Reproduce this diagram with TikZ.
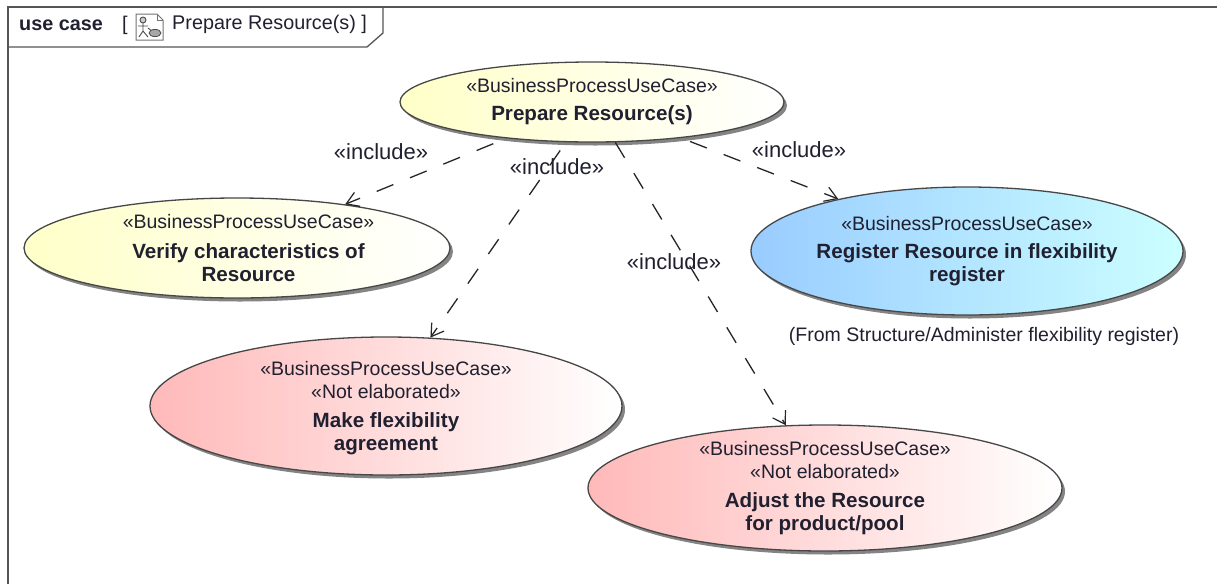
\documentclass[tikz,border=0pt]{standalone}
\usepackage{fontspec}
\setmainfont{Liberation Sans}
\usetikzlibrary{arrows.meta,shapes.geometric,shadows}
\newcommand{\stfont}{\fontsize{19.5}{23}\selectfont}
\newcommand{\bfnt}{\fontsize{20.6}{23}\selectfont\bfseries}
\newcommand{\inclfont}{\fontsize{22}{24}\selectfont}
\newcommand{\upby}[1]{\rule[-#1pt]{0pt}{0pt}}
\definecolor{ink}{HTML}{202030}
\definecolor{framec}{HTML}{555555}
\definecolor{ylo}{HTML}{FFFFC8}
\definecolor{blo}{HTML}{99CCFF}
\definecolor{bhi}{HTML}{CCFFFF}
\definecolor{rlo}{HTML}{FFB9B9}
\tikzset{
  uc/.style={ellipse,draw=black!72,line width=1.3pt,inner sep=0pt,align=center,text=ink,font=\stfont,
    drop shadow={shadow xshift=3pt,shadow yshift=-3.5pt,fill=black!80,opacity=.6}},
  ucY/.style={uc,left color=ylo,right color=white},
  ucB/.style={uc,left color=blo,right color=bhi},
  ucR/.style={uc,left color=rlo,right color=white},
  incl/.style={draw=black!85,line width=1.3pt,dash pattern=on 18pt off 18pt,
    -{Straight Barb[length=12pt,width=15pt,line width=1.2pt]}},
  lbl/.style={font=\inclfont,text=ink,inner sep=0pt},
  frameline/.style={draw=framec,line width=1.3pt}
}
\begin{document}
\begin{tikzpicture}[x=1pt,y=-1pt]
\useasboundingbox (0,0) rectangle (1217,584);
\fill[white] (0,0) rectangle (1217,584);
% frame
\draw[frameline] (8,584) -- (8,7) -- (1217,7);
\draw[frameline] (8,47) -- (367,47) -- (383,33) -- (383,7);
\node[anchor=west,inner sep=0pt,font=\fontsize{19.8}{22}\selectfont\bfseries,text=ink] (fkind) at (19,25) {use case};
\node[anchor=west,inner sep=0pt,font=\fontsize{19.8}{22}\selectfont,text=ink] (fbr) at (122,25) {[};
\node[anchor=west,inner sep=0pt,font=\fontsize{19.8}{22}\selectfont,text=ink] (fname) at (172,24) {Prepare Resource(s) ]};
% icon
\draw[black!55,fill=white,line width=1pt] (136,14) -- (157,14) -- (163,20) -- (163,40) -- (136,40) -- cycle;
\draw[black!55,line width=.8pt] (157,14) -- (157,20) -- (163,20);
\draw[black!70,fill=black!20,line width=.9pt] (143,20) circle (3);
\draw[black!70,line width=.9pt] (143,23) -- (143,31) (138,26) -- (148,26) (143,31) -- (139,37) (143,31) -- (148,37) (148,28) -- (152,31);
\draw[black!70,fill=black!35,line width=.8pt] (155,33) ellipse (6 and 3.6);
% use cases
\node[ucY,minimum width=384pt,minimum height=80pt] (prep) at (592,102)
 {«BusinessProcessUseCase»\\[5pt]{\bfnt Prepare Resource(s)}\upby{4}};
\node[ucY,minimum width=426pt,minimum height=100pt,inner ysep=-8pt] (verify) at (237,248)
 {\hspace*{23pt}«BusinessProcessUseCase»\\[7pt]\hspace*{23pt}{\bfnt Verify characteristics of}\\\hspace*{23pt}{\bfnt Resource}};
\node[ucB,minimum width=432pt,minimum height=128pt] (register) at (967,251)
 {«BusinessProcessUseCase»\\[5pt]{\bfnt Register Resource in flexibility}\\{\bfnt register}\upby{4}};
\node[ucR,minimum width=472pt,minimum height=138pt,inner ysep=-8pt] (make) at (386,406)
 {\rule{0pt}{18pt}«BusinessProcessUseCase»\\«Not elaborated»\\[6pt]{\bfnt Make flexibility}\\{\bfnt agreement}};
\node[ucR,minimum width=474pt,minimum height=126pt,inner ysep=-12pt] (adjust) at (825,488)
 {«BusinessProcessUseCase»\\«Not elaborated»\\[6pt]{\bfnt Adjust the Resource}\\{\bfnt for product/pool}\upby{3}};
\node[lbl,font=\fontsize{19.5}{22}\selectfont] (from) at (984,336) {(From Structure/Administer flexibility register)};
% connectors
\draw[incl,dash phase=22pt] (prep.203) -- (verify.22);
\draw[incl,dash phase=26pt] (prep.237.7) -- (make.57);
\draw[incl] (prep.300) -- (adjust.122.2);
\draw[incl,dash phase=26.5pt] (prep.338) -- (register.158.5);
% labels
\node[lbl] (l1) at (381,152) {«include»};
\node[lbl] (l2) at (557,167) {«include»};
\node[lbl] (l3) at (674,262) {«include»};
\node[lbl] (l4) at (799,150) {«include»};
\end{tikzpicture}
\end{document}
